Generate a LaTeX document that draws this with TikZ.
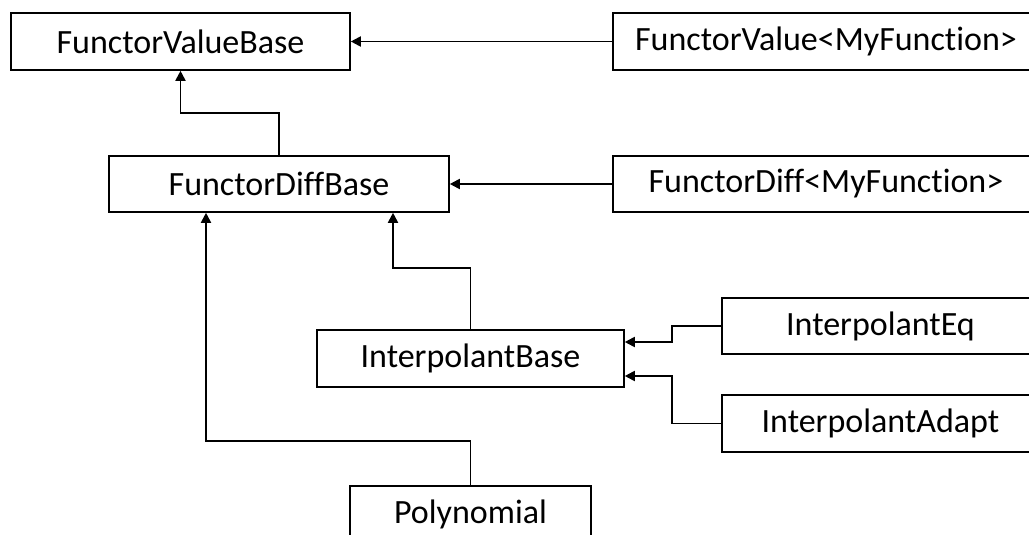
\documentclass[tikz,border=0pt]{standalone}
\usepackage{fontspec}
\setmainfont{Carlito}[Ligatures={NoCommon,NoRare,NoContextual}]
\usetikzlibrary{arrows.meta}
\tikzset{
  cls/.style={draw=black, line width=1.6pt, fill=white, inner sep=0pt,
    font=\fontsize{34}{40}\selectfont, minimum height=57pt},
  arr/.style={line width=1.8pt, -{Triangle[length=10pt,width=10pt]}}
}
\begin{document}
\begin{tikzpicture}[x=1pt,y=-1pt]
\useasboundingbox (0,0) rectangle (1029,535);
\clip (0,0) rectangle (1029,535);
\node[cls, minimum width=339pt] (fvb) at (180.5,41.5) {FunctorValueBase};
\node[cls, minimum width=426pt] (fv) at (826,41.5) {FunctorValue<MyFunction>};
\node[cls, minimum width=340pt, minimum height=56pt] (fdb) at (279,184) {FunctorDiffBase};
\node[cls, minimum width=426pt, minimum height=56pt] (fd) at (826,184) {FunctorDiff<MyFunction>};
\node[cls, minimum width=307pt] (ib) at (470.5,358.5) {InterpolantBase};
\node[cls, minimum width=317pt, minimum height=56pt] (ie) at (880.5,326) {InterpolantEq};
\node[cls, minimum width=317pt] (ia) at (880.5,423.5) {InterpolantAdapt};
\node[cls, minimum width=241pt] (poly) at (470.5,514.5) {Polynomial};

\draw[arr] (fv.west) -- (fvb.east);
\draw[arr] (fd.west) -- (fdb.east);
\draw[arr] (fdb.north) -- ++(0,-42) -| (fvb.south);
\draw[arr] (ib.north) -- ++(0,-61) -| ([xshift=114pt]fdb.south);
\draw[arr] (poly.north) -- ++(0,-44) -| ([xshift=-73pt]fdb.south);
\draw[arr] (ie.west) -- ++(-49,0) |- ([yshift=16.5pt]ib.east);
\draw[arr] (ia.west) -- ++(-49,0) |- ([yshift=-17.5pt]ib.east);
\end{tikzpicture}
\end{document}
